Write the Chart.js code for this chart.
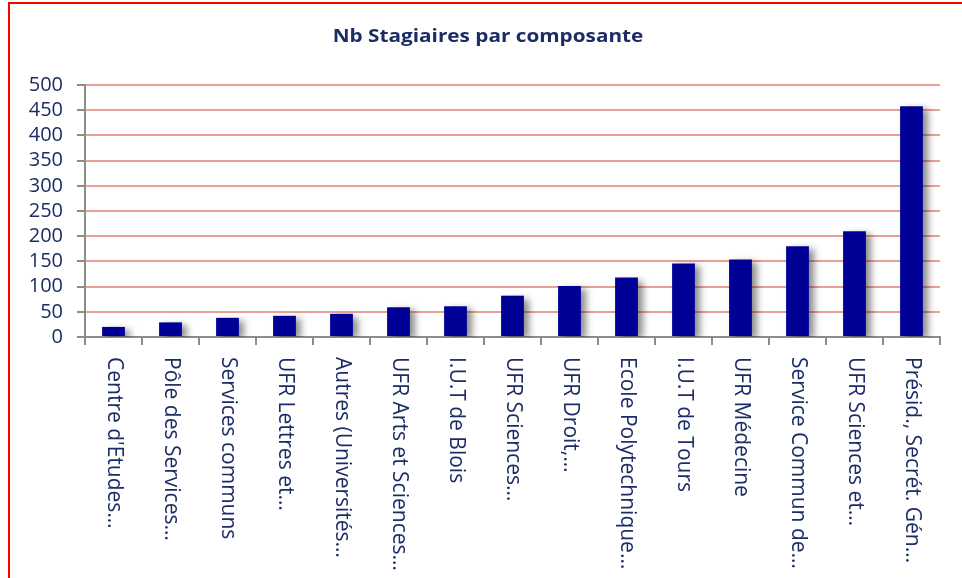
<!DOCTYPE html>
<html>
<head>
<meta charset="utf-8">
<script src="https://cdn.jsdelivr.net/npm/chart.js@4.4.1/dist/chart.umd.min.js"></script>
<style>
    html, body { margin: 0; padding: 0; background: #fff; overflow: hidden; }
    #frame {
        position: absolute; left: 8px; top: 2px;
        width: 1000px; height: 1000px;
        border-left: 2px solid #ff0000; border-top: 2px solid #ff0000;
    }
    #chart { position: absolute; left: 0; top: 0; }
</style>
</head>
<body>
<div id="frame"></div>
<canvas id="chart" width="962" height="578"></canvas>
<script>
// Nombre de stagiaires par composante
const composantes = [
    "Centre d'Etudes…", 'Pôle des Services…', 'Services communs', 'UFR Lettres et…',
    'Autres (Universités…', 'UFR Arts et Sciences…', 'I.U.T de Blois', 'UFR Sciences…',
    'UFR Droit,…', 'Ecole Polytechnique…', 'I.U.T de Tours', 'UFR Médecine',
    'Service Commun de…', 'UFR Sciences et…', 'Présid., Secrét. Gén…'
];
const stagiaires = [20, 29, 38, 42, 46, 59, 61, 82, 101, 118, 146, 154, 180, 210, 458];
const yTicks = [0, 50, 100, 150, 200, 250, 300, 350, 400, 450, 500];
const titre = 'Nb Stagiaires par composante';

const textColor = '#1c2c66';
const axisGray = '#8c8c8c';
const labelFont = '21px "Open Sans"';

// soft drop shadow behind the bars
const barShadow = {
    id: 'barShadow',
    beforeDatasetsDraw(chart) {
        const ctx = chart.ctx;
        ctx.save();
        ctx.shadowColor = 'rgba(0, 0, 0, 0.45)';
        ctx.shadowBlur = 7;
        ctx.shadowOffsetX = 5;
        ctx.shadowOffsetY = 3;
    },
    afterDatasetsDraw(chart) {
        chart.ctx.restore();
    }
};

// wide bold title and category labels written top to bottom
const textLayer = {
    id: 'textLayer',
    afterDraw(chart) {
        const ctx = chart.ctx;
        const xs = chart.scales.x;

        ctx.save();
        ctx.fillStyle = textColor;
        ctx.font = 'bold 17px "Open Sans"';
        ctx.textAlign = 'center';
        ctx.textBaseline = 'alphabetic';
        ctx.translate(488, 42);
        ctx.scale(1.22, 1);
        ctx.fillText(titre, 0, 0);
        ctx.restore();

        ctx.save();
        ctx.font = labelFont;
        ctx.fillStyle = textColor;
        ctx.textAlign = 'left';
        ctx.textBaseline = 'middle';
        composantes.forEach(function(label, i) {
            ctx.save();
            ctx.translate(xs.getPixelForValue(i), xs.top + 20);
            ctx.rotate(Math.PI / 2);
            ctx.fillText(label, 0, 0);
            ctx.restore();
        });
        ctx.restore();
    }
};

new Chart(document.getElementById('chart'), {
    type: 'bar',
    data: {
        labels: composantes,
        datasets: [{
            data: stagiaires,
            backgroundColor: '#000096',
            barPercentage: 0.8,
            categoryPercentage: 0.5
        }]
    },
    options: {
        responsive: false,
        animation: false,
        layout: { padding: { left: 10, right: 22, top: 85, bottom: 0 } },
        plugins: {
            legend: { display: false },
            tooltip: { enabled: false },
            title: { display: false }
        },
        scales: {
            x: {
                afterFit(scale) { scale.height = 241; },
                ticks: { display: false },
                grid: {
                    offset: true,
                    drawOnChartArea: false,
                    drawTicks: true,
                    tickLength: 8,
                    tickColor: axisGray,
                    lineWidth: 2
                },
                border: { color: axisGray, width: 2 }
            },
            y: {
                min: 0,
                max: 500,
                afterFit(scale) { scale.width = 75; },
                afterBuildTicks(scale) {
                    scale.ticks = yTicks.map(v => ({ value: v }));
                },
                ticks: {
                    color: textColor,
                    font: { family: '"Open Sans"', size: 20 },
                    padding: 14,
                    autoSkip: false
                },
                grid: {
                    color: ctx => ctx.tick && ctx.tick.value === 0 ? 'rgba(0,0,0,0)' : '#e9a095',
                    lineWidth: 2,
                    tickLength: 8,
                    tickColor: axisGray
                },
                border: { color: axisGray, width: 2 }
            }
        }
    },
    plugins: [barShadow, textLayer]
});
</script>
</body>
</html>
